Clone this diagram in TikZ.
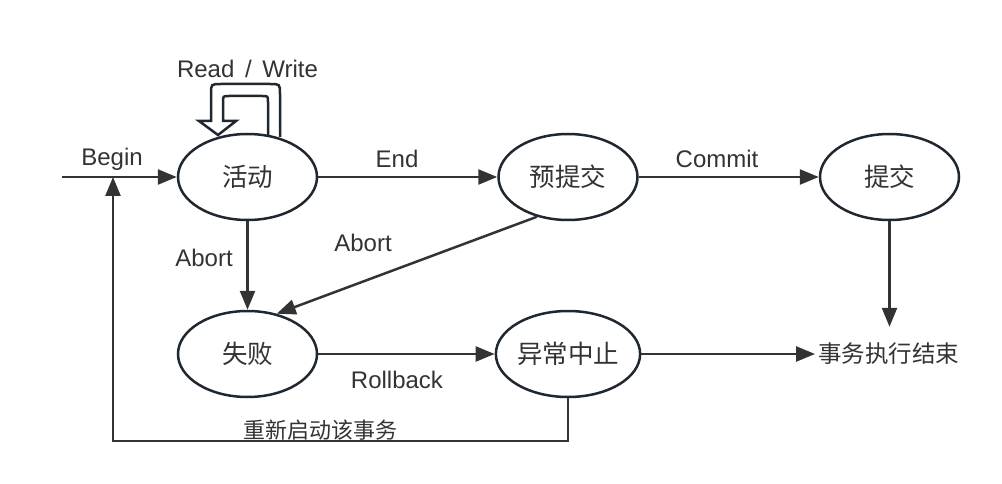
\documentclass[tikz,border=0pt]{standalone}
\usepackage{fontspec}
\setmainfont{Liberation Sans}
\newfontfamily\cjk{Noto Sans CJK SC}
\usetikzlibrary{shapes.geometric,arrows.meta}
\definecolor{arr}{HTML}{333333}
\definecolor{edge}{HTML}{1F2830}
\definecolor{txt}{HTML}{333333}
\tikzset{
  state/.style={ellipse,draw=edge,line width=2.5pt,fill=white,minimum width=139pt,minimum height=86pt,inner sep=0pt,font=\cjk\fontsize{25.5}{30}\selectfont,text=txt},
  conn/.style={draw=arr,line width=2.5pt,-{Triangle[length=19pt,width=15pt]}},
  lbl/.style={font=\fontsize{24}{28}\selectfont,text=txt,inner sep=0pt},
  cjklbl/.style={font=\cjk\fontsize{22}{26}\selectfont,text=txt,inner sep=0pt},
}
\begin{document}
\begin{tikzpicture}[x=1pt,y=-1pt]
\useasboundingbox[fill=white] (0,0) rectangle (1002,484);
% self loop (hollow arrow)
\draw[edge,line width=2.5pt,line join=miter,fill=white]
  (280,137) -- (280,94) .. controls (280,84) .. (270,84) -- (221,84)
  .. controls (211,84) .. (211,94) -- (211,121) -- (199,121) -- (218,135)
  -- (236,121) -- (223,121) -- (223,102) .. controls (223,96) .. (229,96)
  -- (262,96) .. controls (268,96) .. (268,102) -- (268,137);
\node[state] (a) at (247.5,177) {活动};
\node[state] (p) at (568,177) {预提交};
\node[state] (c) at (889.5,177) {提交};
\node[state] (f) at (247.5,354) {失败};
\node[state] (x) at (568,354) {异常中止};
\node[cjklbl,font=\cjk\fontsize{23.5}{28}\selectfont,anchor=west,minimum height=54pt,inner xsep=3pt] (e) at (815,354) {事务执行结束};
\coordinate (s) at (62,177);
\coordinate (b) at (113,177);
\coordinate (r) at (113,441);
% connectors
\draw[conn] (s) -- (a.west);
\draw[conn] (a.east) -- (p.west);
\draw[conn] (p.east) -- (c.west);
\draw[conn] (a.south) -- (f.north);
\draw[conn] (p.232) -- (f.54);
\draw[conn] (f.east) -- (x.west);
\draw[conn] (x.east) -- (e.west);
\draw[conn] (c.south) -- (c.south |- e.north);
\draw[conn,line join=miter] (x.south) |- (r) -- (b);
% labels
\node[lbl] (lrw) at (247.5,69) {Read\hspace{4pt} /\hspace{4pt} Write};
\node[lbl] (lbeg) at (112,159) {Begin};
\node[lbl] (lend) at (397,159) {End};
\node[lbl] (lcom) at (717,159) {Commit};
\node[lbl] (lab1) at (204,258) {Abort};
\node[lbl] (lab2) at (363,243) {Abort};
\node[lbl] (lrb) at (397,380) {Rollback};
\node[cjklbl] (lre) at (320,430) {重新启动该事务};
\end{tikzpicture}
\end{document}
